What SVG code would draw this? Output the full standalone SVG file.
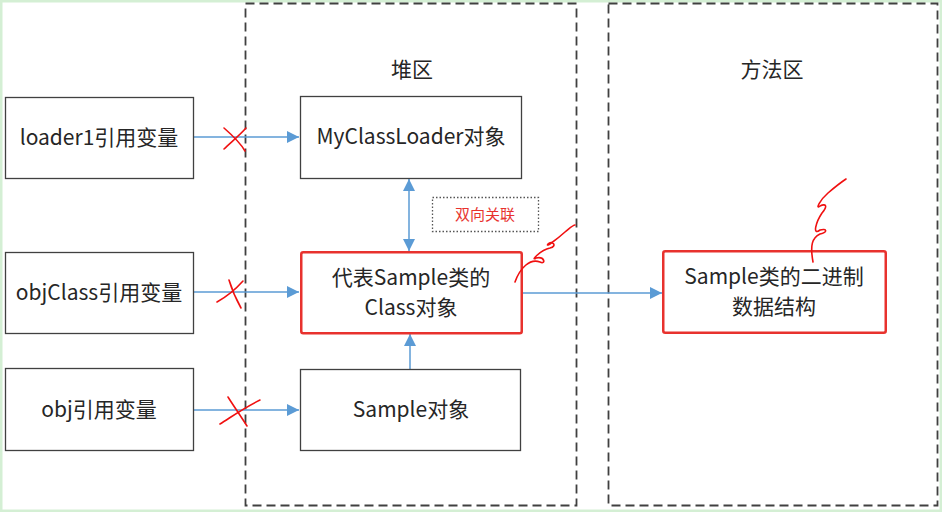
<svg xmlns="http://www.w3.org/2000/svg" width="942" height="512" viewBox="0 0 942 512">
<defs>
<marker id="ah" viewBox="0 0 10 10" refX="10" refY="5" markerWidth="12" markerHeight="12" markerUnits="userSpaceOnUse" orient="auto-start-reverse">
<path d="M0,0 L10,5 L0,10 z" fill="#5B9BD5"/>
</marker>
<style>
.node{fill:#fff;stroke:#404040;stroke-width:1.3}
.red{fill:#fff;stroke:#E8322E;stroke-width:2.5}
.t{font-family:"Noto Sans CJK SC","Noto Sans",sans-serif;font-size:21px;fill:#262626;text-anchor:middle}
.c{stroke:#5B9BD5;stroke-width:1.5;fill:none}
.area{fill:none;stroke:#404040;stroke-width:1.8;stroke-dasharray:9 5}
.ink{fill:none;stroke:#F01010;stroke-width:1.6;stroke-linecap:round;stroke-linejoin:round}
</style>
</defs>
<rect x="0" y="0" width="942" height="512" fill="#fff"/>
<rect x="1" y="1" width="940" height="510" fill="none" stroke="#D4EFD4" stroke-width="3"/>
<rect class="area" x="245.5" y="3.5" width="331" height="502"/>
<rect class="area" x="608.5" y="3.5" width="329" height="502"/>
<text class="t" x="412" y="77">堆区</text>
<text class="t" x="772" y="77">方法区</text>
<g id="connectors">
<line class="c" x1="193" y1="137" x2="299" y2="137" marker-end="url(#ah)"/>
<line class="c" x1="193" y1="292" x2="299" y2="292" marker-end="url(#ah)"/>
<line class="c" x1="193" y1="410" x2="299" y2="410" marker-end="url(#ah)"/>
<line class="c" x1="409" y1="179" x2="409" y2="251" marker-start="url(#ah)" marker-end="url(#ah)"/>
<line class="c" x1="410" y1="369" x2="410" y2="334" marker-end="url(#ah)"/>
<line class="c" x1="523" y1="293" x2="662" y2="293" marker-end="url(#ah)"/>
</g>
<g id="loader1"><rect class="node" x="5.5" y="97.5" width="188" height="81"/><text class="t" x="99" y="145">loader1引用变量</text></g>
<g id="objClass"><rect class="node" x="5.5" y="252.5" width="188" height="81"/><text class="t" x="99" y="300">objClass引用变量</text></g>
<g id="obj"><rect class="node" x="5.5" y="368.5" width="188" height="82"/><text class="t" x="99" y="417">obj引用变量</text></g>
<g id="myclassloader"><rect class="node" x="300.5" y="96.5" width="221" height="82"/><text class="t" x="411" y="144">MyClassLoader对象</text></g>
<g id="classobj"><rect class="red" x="301.25" y="252.25" width="220.5" height="81" rx="2"/><text class="t" x="411" y="285">代表Sample类的</text><text class="t" x="411" y="315">Class对象</text></g>
<g id="sample"><rect class="node" x="300.5" y="369.5" width="220" height="81"/><text class="t" x="411" y="417">Sample对象</text></g>
<g id="binary"><rect class="red" x="663.25" y="251.25" width="222.5" height="81.5" rx="2"/><text class="t" x="774" y="284">Sample类的二进制</text><text class="t" x="774" y="314">数据结构</text></g>
<g id="label"><rect x="432.5" y="197.5" width="106" height="34" fill="none" stroke="#555" stroke-width="1.3" stroke-dasharray="1.5 2"/><text x="485" y="220" font-family="'Noto Sans CJK SC',sans-serif" font-size="15" fill="#E8322E" text-anchor="middle">双向关联</text></g>
<g id="marks">
<path class="ink" d="M224,128 C232,135 240,142 245,151"/>
<path class="ink" d="M224,149 C230,143 239,136 246,128"/>
<path class="ink" d="M217,302 C226,297 235,290 243,281"/>
<path class="ink" d="M229,280 C232,290 236,299 241,308"/>
<path class="ink" d="M220,424 C230,418 240,410 260,400"/>
<path class="ink" d="M228,397 C233,405 238,412 247,426"/>
<path class="ink" d="M515,282 C520,268 530,258 540,262 C546,265 545,256 536,258 C530,262 540,250 550,248 C558,246 552,240 548,244 C545,248 556,240 565,232 C570,228 573,225 575,225"/>
<path class="ink" d="M813,262 C810,245 812,238 820,234 C828,232 827,228 820,230 C812,236 816,222 822,213 C828,206 826,203 820,206 C815,210 820,200 828,193 C835,187 840,183 846,179"/>
</g>
</svg>
